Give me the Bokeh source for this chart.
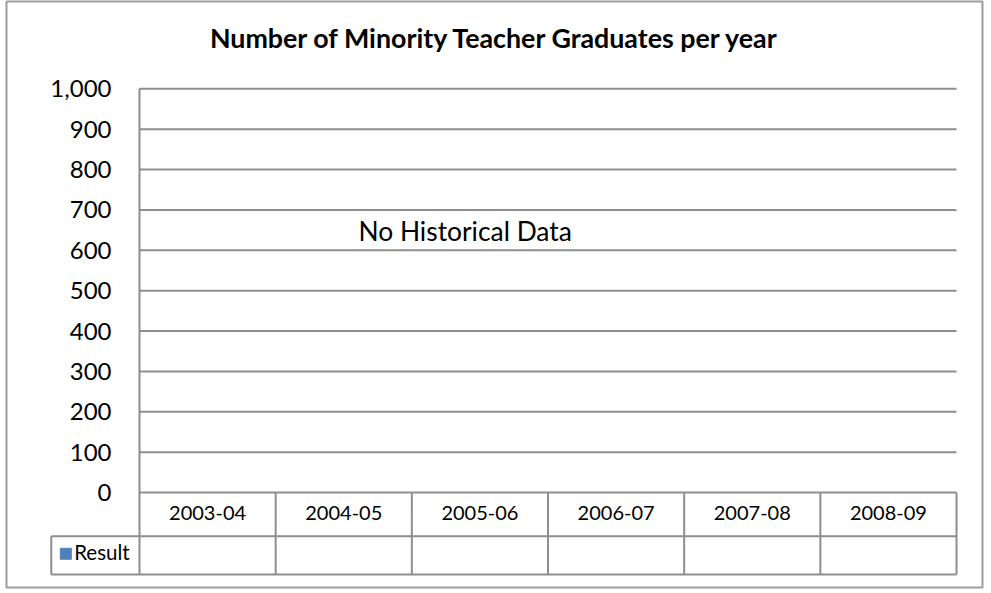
import numpy as np
from bokeh.plotting import figure
from bokeh.models import Range1d, LinearAxis, FixedTicker, NumeralTickFormatter, Label
from bokeh.core.properties import value
from bokeh.embed import file_html
from bokeh.resources import INLINE

# ---- data ----
title = "Number of Minority Teacher Graduates per year"
years = ["2003-04", "2004-05", "2005-06", "2006-07", "2007-08", "2008-09"]
series_name = "Result"
result = [np.nan, np.nan, np.nan, np.nan, np.nan, np.nan]   # no historical data
y_ticks = [0, 100, 200, 300, 400, 500, 600, 700, 800, 900, 1000]
note = "No Historical Data"

# ---- style ----
FONT = "Lato"
GRID = "#8e8e8e"
BORDER = "#9c9c9c"
BLUE = "#4F81BD"

# table geometry (data units)
ROW_SPLIT = -108.2
TABLE_BOTTOM = -203.1
HEADER_LEFT = -0.648

n = len(years)
xs = np.arange(n) + 0.5

p = figure(width=984, height=589, output_backend="svg", toolbar_location=None,
           x_range=Range1d(-0.9767, 6.1908), y_range=Range1d(-235.3, 1216.2),
           x_axis_location=None, y_axis_location=None,
           min_border_left=6, min_border_right=2, min_border_top=1, min_border_bottom=2)
p.grid.visible = False
p.outline_line_color = BORDER
p.outline_line_width = 2
p.background_fill_color = "white"
p.border_fill_color = "white"

# y axis placed at the left edge of the plot area
yaxis = LinearAxis(fixed_location=0, ticker=FixedTicker(ticks=y_ticks),
                   formatter=NumeralTickFormatter(format="0,0"),
                   bounds=(TABLE_BOTTOM, max(y_ticks)),
                   axis_line_color=GRID, axis_line_width=2,
                   major_tick_line_color=None, minor_tick_line_color=None,
                   major_tick_out=0, major_tick_in=0, major_label_standoff=28,
                   major_label_text_font=FONT, major_label_text_font_size="24px",
                   major_label_text_color="black")
p.add_layout(yaxis, "left")

# gridlines
p.segment(x0=0, x1=n, y0=y_ticks, y1=y_ticks, line_color=GRID, line_width=2)

# (empty) bars
p.vbar(x=xs, top=result, width=0.6, color=BLUE)

# data table lines
p.segment(x0=[HEADER_LEFT, HEADER_LEFT], x1=[n, n], y0=[ROW_SPLIT, TABLE_BOTTOM],
          y1=[ROW_SPLIT, TABLE_BOTTOM], line_color=GRID, line_width=2)
p.segment(x0=[HEADER_LEFT], x1=[HEADER_LEFT], y0=[ROW_SPLIT], y1=[TABLE_BOTTOM],
          line_color=GRID, line_width=2)
p.segment(x0=list(range(1, n + 1)), x1=list(range(1, n + 1)), y0=[0] * n,
          y1=[TABLE_BOTTOM] * n, line_color=GRID, line_width=2)

# category labels in the table
p.text(x=xs, y=[-50.8] * n, text=years, text_font=value(FONT), text_font_size="20px",
       text_align="center", text_baseline="alphabetic", text_color="black")

# series row header
p.scatter(x=[-0.5412], y=[-151.8], marker="square", size=11, color=BLUE)
p.text(x=[-0.4796], y=[-147.4], text=[series_name], text_font=value(FONT),
       text_font_size="20.5px", text_align="left", text_baseline="alphabetic",
       text_color="black")

# title and note
p.add_layout(Label(x=2.614, y=1127, text=title, text_align="center",
                   text_baseline="alphabetic", text_font=FONT, text_font_style="bold",
                   text_font_size="26.8px", text_color="black"))
p.add_layout(Label(x=1.608, y=646.5, text=note, text_align="left",
                   text_baseline="alphabetic", text_font=FONT, text_font_size="26.4px",
                   text_color="black"))

open("out.html", "w").write(file_html(p, INLINE))
